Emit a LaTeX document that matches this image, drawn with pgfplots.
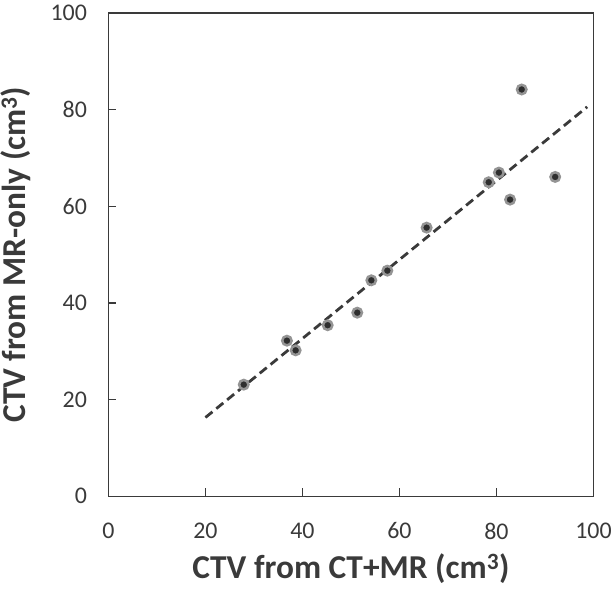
\documentclass[border={1bp 7bp 0bp 2bp}]{standalone}
\usepackage{fontspec}
\setmainfont{Carlito}
\usepackage{pgfplots}
\pgfplotsset{compat=1.18}
\definecolor{axgray}{HTML}{3A3A3A}
\begin{document}
\begin{tikzpicture}
\begin{axis}[
  scale only axis,
  width=485bp, height=483bp,
  xmin=0, xmax=100, ymin=0, ymax=100,
  xtick={0,20,...,100}, ytick={0,20,...,100},
  tick align=inside,
  xtick pos=bottom, ytick pos=left,
  major tick length=8bp,
  axis line style={axgray, line width=1.4bp},
  tick style={axgray, line width=1.2bp},
  /pgf/number format/assume math mode=true,
  ticklabel style={font=\fontsize{24}{28}\selectfont, text=axgray},
  xticklabel style={yshift=-23bp},
  yticklabel style={xshift=-18bp},
  xlabel={\textbf{CTV from CT+MR (cm\textsuperscript{3})}},
  ylabel={\textbf{CTV from MR-only (cm\textsuperscript{3})}},
  label style={font=\fontsize{33.5}{38}\selectfont, text=axgray, inner sep=0pt},
  xlabel style={yshift=-11bp},
  ylabel style={yshift=16bp},
  clip=false,
]
\addplot[color=axgray, line width=2.8bp, dash pattern=on 9bp off 5bp] coordinates {(20,16.3) (98.7,80.6)};
\addplot[only marks, mark=*, mark size=4.7bp,
  mark options={fill=black!82, draw=black!42, line width=2.5bp}]
  coordinates {
  (27.9,23.1) (36.8,32.2) (38.6,30.2) (45.2,35.4) (51.3,38.0)
  (54.2,44.7) (57.5,46.7) (65.6,55.6) (78.4,65.0) (80.5,67.0)
  (82.8,61.4) (85.2,84.2) (92.1,66.1)
  };
\end{axis}
\end{tikzpicture}
\end{document}
